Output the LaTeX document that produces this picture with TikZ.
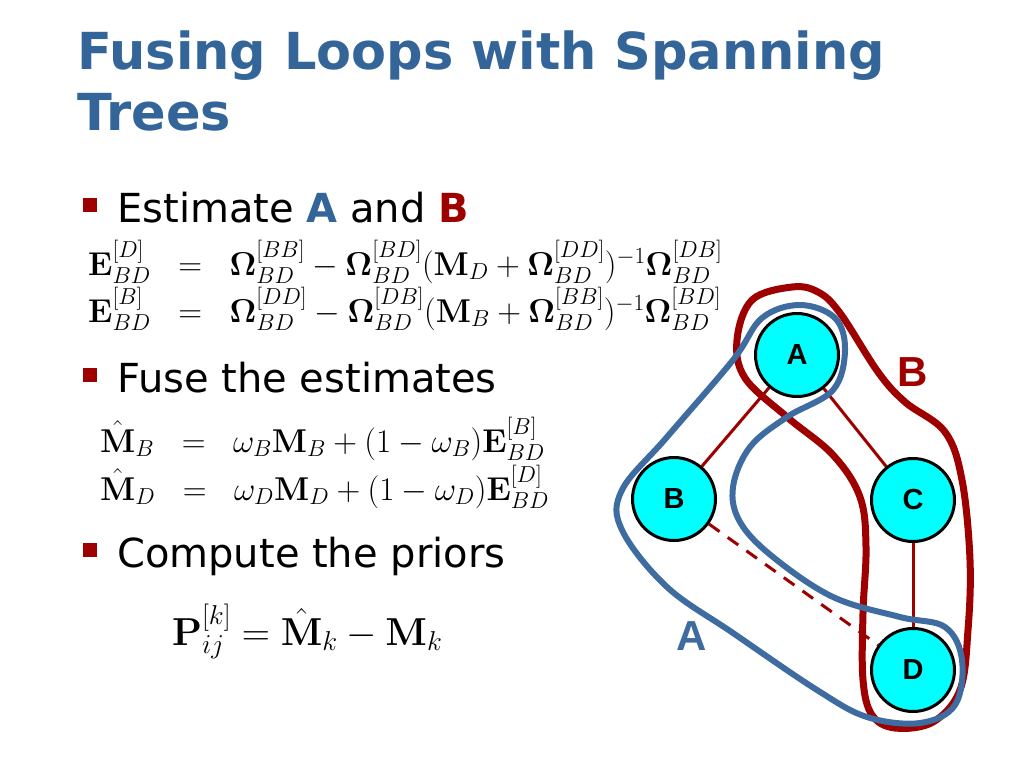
\RequirePackage{fix-cm}
\documentclass[tikz,border=0pt]{standalone}
\usepackage[no-math]{fontspec}
\usepackage{amsmath}
\usetikzlibrary{backgrounds}
\newfontfamily\dvfont{DejaVu Sans}
\newfontfamily\arfont{Liberation Sans}
\definecolor{tblue}{RGB}{52,101,153}
\definecolor{dred}{RGB}{158,0,0}
\definecolor{lblue}{RGB}{62,108,160}
\definecolor{ncyan}{RGB}{0,255,255}
\newcommand{\bO}{\mathbf{\Omega}}
\begin{document}
\begin{tikzpicture}[x=1pt,y=-1pt,
  title/.style={anchor=base west,inner sep=0pt,text=tblue,font=\dvfont\bfseries\fontsize{51}{60}\selectfont},
  bullettext/.style={anchor=base west,inner sep=0pt,font=\dvfont\fontsize{40}{48}\selectfont},
  bulletsq/.style={fill=dred,draw=none,minimum size=14pt,inner sep=0pt},
  eq/.style={anchor=base west,inner sep=0pt,font=\fontsize{33}{40}\selectfont},
  eqbig/.style={anchor=base west,inner sep=0pt,font=\fontsize{39}{48}\selectfont},
  gnode/.style={circle,draw=black,line width=3pt,fill=ncyan,minimum size=83pt,inner sep=0pt,font=\arfont\bfseries\fontsize{29}{34}\selectfont},
  gedge/.style={draw=dred,line width=3pt},
  loopred/.style={draw=dred,line width=7pt},
  loopblue/.style={draw=lblue,line width=6pt},
  biglabel/.style={inner sep=0pt,font=\arfont\bfseries\fontsize{42}{50}\selectfont}]
\useasboundingbox (0,0) rectangle (1024,768);
% title
\node[title] (t1) at (77,70) {Fusing Loops with Spanning};
\node[title] (t2) at (77,130) {Trees};
% bullets
\node[bulletsq] (b1) at (90,205) {};
\node[bullettext] (l1) at (117,222) {Estimate \textcolor{tblue}{\bfseries A} and \textcolor{dred}{\bfseries B}};
\node[bulletsq] (b2) at (90,375) {};
\node[bullettext] (l2) at (117,392) {Fuse the estimates};
\node[bulletsq] (b3) at (90,550) {};
\node[bullettext] (l3) at (117,567) {Compute the priors};
% equations
\node[eq] (e1) at (88,275) {$\mathbf{E}^{[D]}_{BD} \;\;=\;\; \bO^{[BB]}_{BD} - \bO^{[BD]}_{BD}(\mathbf{M}_D + \bO^{[DD]}_{BD})^{-1}\bO^{[DB]}_{BD}$};
\node[eq] (e2) at (88,322) {$\mathbf{E}^{[B]}_{BD} \;\;=\;\; \bO^{[DD]}_{BD} - \bO^{[DB]}_{BD}(\mathbf{M}_B + \bO^{[BB]}_{BD})^{-1}\bO^{[BD]}_{BD}$};
\node[eq] (f1) at (100,452) {$\hat{\mathbf{M}}_B \;\;=\;\; \omega_B\mathbf{M}_B + (1-\omega_B)\mathbf{E}^{[B]}_{BD}$};
\node[eq] (f2) at (100,500) {$\hat{\mathbf{M}}_D \;\;=\;\; \omega_D\mathbf{M}_D + (1-\omega_D)\mathbf{E}^{[D]}_{BD}$};
\node[eqbig] (p1) at (172,645) {$\mathbf{P}^{[k]}_{ij} = \hat{\mathbf{M}}_k - \mathbf{M}_k$};
% graph nodes
\node[gnode] (A) at (797,355) {A};
\node[gnode] (B) at (674,499) {B};
\node[gnode] (C) at (913,500) {C};
\node[gnode] (D) at (913,670) {D};
\begin{scope}[on background layer]
\fill[white] (0,0) rectangle (1024,768);
\draw[gedge] (A) -- (B);
\draw[gedge] (A) -- (C);
\draw[gedge] (C) -- (D);
\draw[gedge,dash pattern=on 13pt off 10pt] (B) -- (D);
\end{scope}
% loops
\draw[loopred] plot[smooth cycle,tension=0.6] coordinates {(792,287) (752,300) (737,340) (745,378) (787,417) (833,455) (860,497) (866,547) (863,613) (863,680) (872,715) (895,728) (933,722) (960,690) (968,630) (970,560) (962,480) (945,432) (905,402) (878,372) (840,313) (818,292)};
\draw[loopblue] plot[smooth cycle,tension=0.6] coordinates {(800,305) (835,318) (845,350) (833,390) (787,417) (750,447) (733,487) (740,522) (773,557) (833,597) (900,617) (945,627) (962,660) (955,705) (920,723) (867,717) (817,690) (733,633) (667,587) (622,530) (622,490) (667,437) (733,360) (762,318)};
% loop labels
\node[biglabel,text=dred] (LB) at (913,372) {B};
\node[biglabel,text=lblue] (LA) at (692,636) {A};
\end{tikzpicture}
\end{document}
